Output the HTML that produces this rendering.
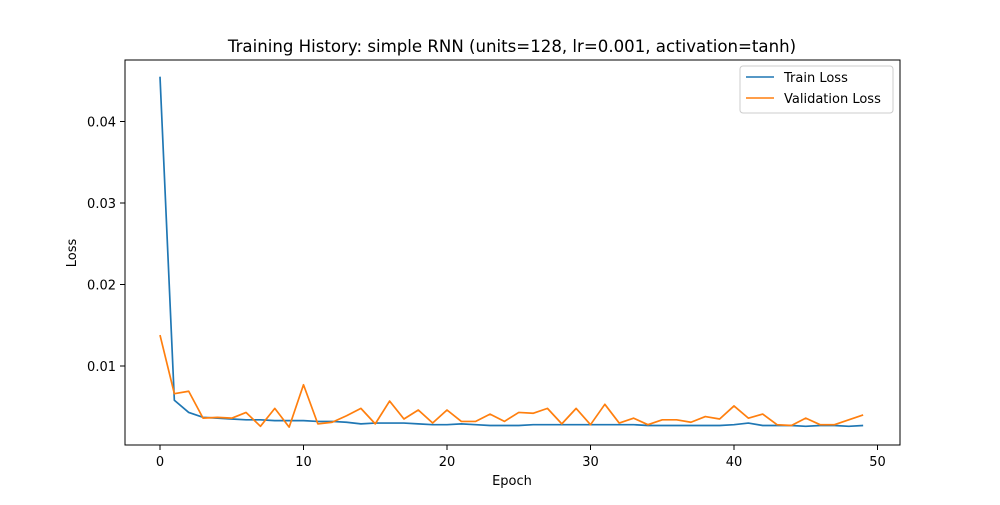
<!DOCTYPE html>
<html><head><meta charset="utf-8"><style>
body{margin:0;background:#fff;font-family:"Liberation Sans","DejaVu Sans",sans-serif;}
svg text{font-family:"DejaVu Sans","Liberation Sans",sans-serif;}
</style></head><body>
<svg id="chart" width="1000" height="500" xmlns="http://www.w3.org/2000/svg">
<rect width="1000" height="500" fill="#fff"/>
<text x="512" y="52" font-size="16.6" text-anchor="middle">Training History: simple RNN (units=128, lr=0.001, activation=tanh)</text>
<g id="plot"></g>
<rect x="125" y="60" width="775" height="385" fill="none" stroke="#000" stroke-width="1"/>
<text x="512" y="485" font-size="13" text-anchor="middle">Epoch</text>
<text x="76" y="253" font-size="13" text-anchor="middle" transform="rotate(-90 76 253)">Loss</text>
<g>
<rect x="740" y="66" width="153" height="47" fill="#fff" stroke="#ccc" rx="3"/>
<line x1="746" y1="77" x2="774" y2="77" stroke="#1f77b4" stroke-width="1.6"/>
<text x="784" y="82" font-size="13">Train Loss</text>
<line x1="746" y1="98" x2="774" y2="98" stroke="#ff7f0e" stroke-width="1.6"/>
<text x="784" y="103" font-size="13">Validation Loss</text>
</g>
</svg>
<script>
const epochs=[...Array(50).keys()];
const trainLoss=[0.0455,0.0058,0.0043,0.0037,0.0036,0.0035,0.0034,0.0034,0.0033,0.0033,0.0033,0.0032,0.0032,0.0031,0.0029,0.0030,0.0030,0.0030,0.0029,0.0028,0.0028,0.0029,0.0028,0.0027,0.0027,0.0027,0.0028,0.0028,0.0028,0.0028,0.0028,0.0028,0.0028,0.0028,0.0027,0.0027,0.0027,0.0027,0.0027,0.0027,0.0028,0.0030,0.0027,0.0027,0.0027,0.0026,0.0027,0.0027,0.0026,0.0027];
const valLoss=[0.0138,0.0066,0.0069,0.0036,0.0037,0.0036,0.0043,0.0026,0.0048,0.0025,0.0077,0.0029,0.0031,0.0039,0.0048,0.0029,0.0057,0.0035,0.0046,0.0030,0.0046,0.0032,0.0032,0.0041,0.0032,0.0043,0.0042,0.0048,0.0029,0.0048,0.0028,0.0053,0.0030,0.0036,0.0028,0.0034,0.0034,0.0031,0.0038,0.0035,0.0051,0.0036,0.0041,0.0028,0.0027,0.0036,0.0028,0.0028,0.0034,0.0040];
const xTicks=[0,10,20,30,40,50];
const yTicks=[0.01,0.02,0.03,0.04];
const yTickLabels=["0.01","0.02","0.03","0.04"];
const X=v=>160+v*14.35;
const Y=v=>447.5-v*8150;
const ns="http://www.w3.org/2000/svg";
const g=document.getElementById('plot');
function mk(t,a){const e=document.createElementNS(ns,t);for(const k in a)e.setAttribute(k,a[k]);g.appendChild(e);return e;}
xTicks.forEach(t=>{
  const l=mk('line',{x1:X(t),x2:X(t),y1:445,y2:450,stroke:'#000'});
  
  
  const tx=mk('text',{x:X(t),y:466,'font-size':13,'text-anchor':'middle'});tx.textContent=t;
  
  
});
yTicks.forEach((t,i)=>{
  const l=mk('line',{x1:120,x2:125,y1:Y(t),y2:Y(t),stroke:'#000'});
  
  
  const tx=mk('text',{x:116,y:Y(t)+5,'font-size':13,'text-anchor':'end'});tx.textContent=yTickLabels[i];
  
  
});
function line(data,color,name){
  const p=mk('polyline',{points:data.map((v,i)=>X(epochs[i])+','+Y(v)).join(' '),fill:'none',stroke:color,'stroke-width':1.7,'stroke-linejoin':'round'});
  
  
}
line(trainLoss,'#1f77b4','train-loss-line');
line(valLoss,'#ff7f0e','validation-loss-line');
</script>
</body></html>
